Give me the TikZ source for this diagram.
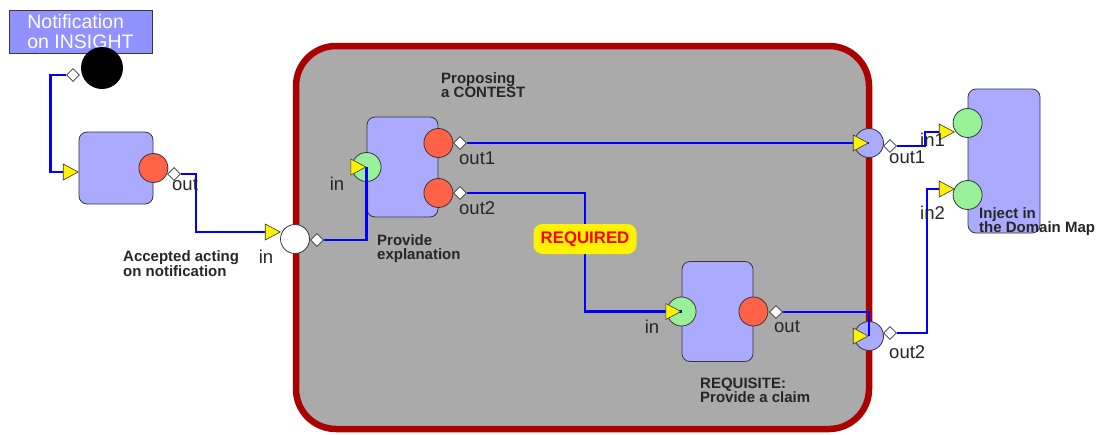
\documentclass[tikz,border=0pt]{standalone}
\usepackage{fontspec}
\setmainfont{Liberation Sans}
\usetikzlibrary{positioning,shapes.geometric,calc}
\definecolor{blockfill}{RGB}{170,170,255}
\definecolor{notefill}{RGB}{145,145,255}
\definecolor{portred}{RGB}{255,99,71}
\definecolor{portgreen}{RGB}{152,240,152}
\definecolor{wireblue}{RGB}{0,0,255}
\definecolor{framered}{RGB}{170,0,0}
\definecolor{framegray}{RGB}{170,170,170}
\definecolor{edgegray}{RGB}{55,55,55}

\begin{document}
\begin{tikzpicture}[
  x=1pt, y=-1pt,
  font=\fontsize{18.5}{20}\selectfont,
  frame/.style={draw=framered, fill=framegray, line width=6.5pt, rounded corners=40pt, inner sep=0pt},
  note/.style={draw=edgegray, fill=notefill, text=white, align=left, inner sep=0pt, line width=0.8pt,
    font=\fontsize{19.5}{20}\selectfont},
  block/.style={draw=edgegray, fill=blockfill, rounded corners=8pt, line width=0.8pt, inner sep=0pt},
  outport/.style={circle, draw=edgegray, fill=portred, minimum size=29pt, inner sep=0pt, line width=0.8pt},
  inport/.style={outport, fill=portgreen},
  relay/.style={outport, fill=blockfill},
  gate/.style={outport, fill=white},
  flag/.style={isosceles triangle, isosceles triangle stretches, shape border rotate=0,
    minimum width=16pt, minimum height=15pt, inner sep=0pt, draw=edgegray, fill=yellow,
    line width=0.6pt, anchor=apex},
  link/.style={diamond, draw=edgegray, fill=white, minimum size=13pt, inner sep=0pt, line width=0.6pt},
  wire/.style={draw=wireblue, line width=2.6pt},
  tag/.style={fill=yellow, rounded corners=9pt, minimum width=103pt, minimum height=30pt,
    text=red, font=\fontsize{16.8}{17}\selectfont\bfseries},
  caption/.style={font=\fontsize{15}{14}\selectfont\bfseries, align=left, anchor=north west,
    inner sep=0pt, text=black!85},
  plabel/.style={inner sep=0pt, text=black!85}
]
\useasboundingbox (0,0) rectangle (1099,434);
% ---- enclosing activity ----
\node[frame, minimum width=573pt, minimum height=383pt] (contest) at (582.5,237.5) {};
% ---- notification and acceptance (left) ----
\node[note, minimum width=143pt, minimum height=43pt] (notif) at (80.5,31.5) {Notification\\on INSIGHT};
\node[circle, fill=black, minimum size=42pt, inner sep=0pt] (start) at (102,68) {};
\node[link] (start-lnk) at (73,75) {};
\node[block, minimum width=74pt, minimum height=72pt] (accept) at (116,168) {};
\node[outport] (accept-out) at (accept.east) {};
\node[link] (accept-lnk) at (174,174) {};
\node[flag] (accept-in) at (79,172) {};
% ---- entry port of the activity ----
\node[gate] (entry) at (295,239) {};
\node[link] (entry-lnk) at (317,240) {};
\node[flag] (entry-in) at (281,232) {};
% ---- Provide explanation ----
\node[block, minimum width=71pt, minimum height=100pt] (explain) at (402.5,167) {};
\node[inport] (explain-in) at (explain.west) {};
\node[outport] (explain-out1) at ([yshift=24pt]explain.east) {};
\node[outport] (explain-out2) at ([yshift=-26pt]explain.east) {};
\node[link] (explain-lnk1) at (460,143) {};
\node[link] (explain-lnk2) at (460,193) {};
% ---- Provide a claim ----
\node[block, minimum width=71pt, minimum height=100pt] (claim) at (717.5,311.5) {};
\node[inport] (claim-in) at (claim.west) {};
\node[outport] (claim-out) at (claim.east) {};
\node[link] (claim-lnk) at (776,312) {};
% ---- exit ports of the activity ----
\node[relay] (exit1) at (869,143) {};
\node[relay] (exit2) at (869,336) {};
\node[link] (exit1-lnk) at (890,146) {};
\node[link] (exit2-lnk) at (890,333) {};
% ---- Inject in the Domain Map ----
\node[block, minimum width=72pt, minimum height=144pt] (inject) at (1004,161) {};
\node[inport] (inject-in1) at ([yshift=38pt]inject.west) {};
\node[inport] (inject-in2) at ([yshift=-34pt]inject.west) {};
\node[flag] (inject-flag1) at (955,132) {};
\node[flag] (inject-flag2) at (955,189) {};
% ---- wires ----
\coordinate (reqpt) at (585,239);
\draw[wire] (start-lnk.west) -- ++(-16,0) |- (accept-in.west);
\draw[wire] (accept-lnk.east) -- ++(15,0) |- (entry-in.west);
\draw[wire] (entry-lnk.east) -| (explain-in.center);
\draw[wire] (explain-lnk1.east) -- (exit1.center);
\draw[wire] (explain-lnk2.east) -| (reqpt) |- (claim-in.center);
\draw[wire] (claim-lnk.east) -| (exit2.center);
\draw[wire] (exit1-lnk.east) -- ++(28,0) |- (inject-flag1.west);
\draw[wire] (exit2-lnk.east) -- ++(30,0) |- (inject-flag2.west);
% ---- input flags drawn over the wires ----
\node[flag] (explain-flag) at (explain-in.center) {};
\node[flag] (claim-flag) at (claim-in.center) {};
\node[flag] (exit1-flag) at (exit1.center) {};
\node[flag] (exit2-flag) at (exit2.center) {};
\node[tag] (req) at (reqpt) {REQUIRED};
% ---- port labels ----
\node[plabel, anchor=west] (accept-outlbl) at (172,185) {out};
\node[plabel] (entry-lbl) at (266,257) {in};
\node[plabel] (explain-inlbl) at (337,184) {in};
\node[plabel, anchor=west] (explain-lbl1) at (459,158) {out1};
\node[plabel, anchor=west] (explain-lbl2) at (459,208) {out2};
\node[plabel] (claim-inlbl) at (652,327) {in};
\node[plabel, anchor=west] (claim-outlbl) at (774,327) {out};
\node[plabel, anchor=west] (exit1-lbl) at (889,157) {out1};
\node[plabel, anchor=west] (exit2-lbl) at (889,352) {out2};
\node[plabel, anchor=west] (inject-lbl1) at (920,140) {in1};
\node[plabel, anchor=west] (inject-lbl2) at (920,213) {in2};
% ---- captions ----
\node[caption] (accept-cap) at (123,250) {Accepted acting\\on notification};
\node[caption] (contest-cap) at (441,72) {Proposing\\a CONTEST};
\node[caption] (explain-cap) at (377,234) {Provide\\explanation};
\node[caption] (claim-cap) at (700,378) {REQUISITE:\\Provide a claim};
\node[caption] (inject-cap) at (979,207) {Inject in\\the Domain Map};
\end{tikzpicture}
\end{document}
